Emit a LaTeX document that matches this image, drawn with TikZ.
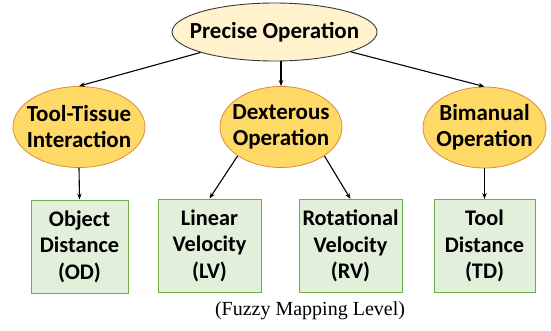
\documentclass[tikz,border=0pt]{standalone}
\usepackage{fontspec}
\setmainfont{Liberation Serif}
\newfontfamily\nodefont{Carlito}
\usetikzlibrary{shapes.geometric,arrows.meta}
\definecolor{topfill}{HTML}{FFF2CC}
\definecolor{topline}{HTML}{3A3A3A}
\definecolor{midfill}{HTML}{FFD966}
\definecolor{midline}{HTML}{D98B3A}
\definecolor{boxfill}{HTML}{E2EFDA}
\definecolor{boxline}{HTML}{70AD47}
\tikzset{
  lbl/.style={font=\nodefont\bfseries\fontsize{23}{26}\selectfont, align=center, text=black, inner sep=0pt},
  ellbase/.style={ellipse, inner sep=0pt},
  topell/.style={ellbase, draw=topline, line width=0.9pt, fill=topfill, minimum width=205pt, minimum height=58pt},
  midell/.style={ellbase, draw=midline, line width=0.8pt, fill=midfill, minimum width=123pt, minimum height=81pt},
  leafbox/.style={lbl, font=\nodefont\bfseries\fontsize{22.3}{26.5}\selectfont, rectangle, draw=boxline, line width=1pt, fill=boxfill, minimum width=101pt, minimum height=93pt},
  arr/.style={draw=black, line width=1.1pt, -{Stealth[length=6pt,width=4.5pt]}}
}
\begin{document}
\begin{tikzpicture}[x=1pt,y=-1pt]
\useasboundingbox (0,0) rectangle (551,330);
\node[topell, label={[lbl]center:Precise Operation}] (top) at (274.5,32) {};
\node[midell, minimum width=132pt, label={[lbl]center:Tool-Tissue\\Interaction}] (tt) at (79,127) {};
\node[midell, minimum width=122pt, label={[lbl]center:Dexterous\\Operation}] (dx) at (281,127) {};
\node[midell, label={[lbl]center:Bimanual\\Operation}] (bm) at (484.5,127.5) {};
\node[leafbox, minimum width=97pt] (od) at (79.5,246.5) {Object\\Distance\\(OD)};
\node[leafbox, minimum width=103pt] (lv) at (209.5,245.5) {Linear\\Velocity\\(LV)};
\node[leafbox, minimum width=103pt] (rv) at (350.5,246) {Rotational\\Velocity\\(RV)};
\node[leafbox] (td) at (484.5,246) {Tool\\Distance\\(TD)};
\node[font=\fontsize{20}{24}\selectfont, inner sep=0pt] (cap) at (310,311) {(Fuzzy Mapping Level)};
\draw[arr] (top) -- (tt.north);
\draw[arr] (dx.north |- top.south) -- (dx.north);
\draw[arr] (top) -- (bm.north);
\draw[arr] (tt.south) -- (od.north);
\draw[arr] (dx.south west) -- (lv.north);
\draw[arr] (dx.south east) -- (rv.north);
\draw[arr] (bm.south) -- (td.north);
\end{tikzpicture}
\end{document}
